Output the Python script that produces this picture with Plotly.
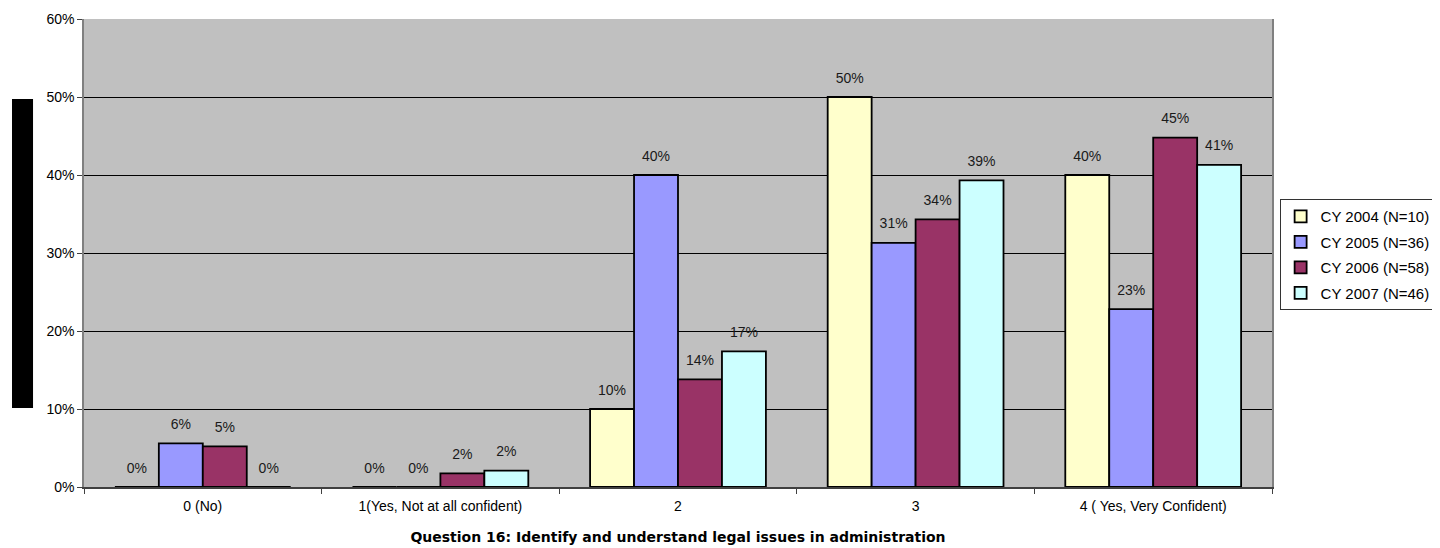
import plotly.graph_objects as go

categories = ["0 (No)", "1(Yes, Not at all confident)", "2", "3", "4 ( Yes, Very Confident)"]
series_names = ["CY 2004 (N=10)", "CY 2005 (N=36)", "CY 2006 (N=58)", "CY 2007 (N=46)"]
cy2004 = [0.0, 0.0, 0.10, 0.50, 0.40]
cy2005 = [0.056, 0.0, 0.40, 0.313, 0.228]
cy2006 = [0.052, 0.0175, 0.138, 0.343, 0.448]
cy2007 = [0.0, 0.021, 0.174, 0.393, 0.413]
colors = ["#FFFFCC", "#9999FF", "#993366", "#CCFFFF"]
x_title = "Question 16: Identify and understand legal issues in administration"

FONT = "Liberation Sans, Arial, sans-serif"
all_series = [cy2004, cy2005, cy2006, cy2007]

fig = go.Figure()
for i, (name, vals, col) in enumerate(zip(series_names, all_series, colors)):
    fig.add_trace(go.Bar(
        x=categories, y=vals, name=name, legendgroup=name,
        offsetgroup=str(i),
        marker=dict(color=col, line=dict(color="black", width=1.8)),
        hoverinfo="x+y+name",
    ))
# value labels, grouped like the bars
for i, (name, vals) in enumerate(zip(series_names, all_series)):
    fig.add_trace(go.Scatter(
        x=categories, y=vals, name=name, legendgroup=name, showlegend=False,
        offsetgroup=str(i),
        mode="markers+text",
        marker=dict(size=16, opacity=0),
        texttemplate="%{y:.0%}", textposition="top center",
        textfont=dict(family=FONT, size=14, color="#1a1a1a"),
        cliponaxis=False, hoverinfo="skip",
    ))

fig.update_layout(
    width=1432, height=540,
    margin=dict(l=76, r=168, t=11, b=61, autoexpand=False),
    paper_bgcolor="white", plot_bgcolor="#C0C0C0",
    barmode="group", bargap=0.26, bargroupgap=0,
    scattermode="group", scattergap=0.26,
    font=dict(family=FONT, size=14, color="black"),
    showlegend=True,
    legend=dict(
        xref="container", yref="container",
        x=0.888, xanchor="left", y=0.646, yanchor="top",
        bgcolor="white", bordercolor="#333333", borderwidth=1,
        font=dict(family=FONT, size=15, color="black"),
        traceorder="grouped", tracegroupgap=3,
        itemwidth=30,
    ),
    xaxis=dict(
        type="category", showgrid=False, automargin=False,
        showline=True, linecolor="#404040", linewidth=1.5,
        ticks="outside", tickson="boundaries", ticklen=5, tickcolor="#404040",
        ticklabelstandoff=5,
        tickfont=dict(family=FONT, size=14),
        title=dict(text="<b>" + x_title + "</b>", standoff=20,
                   font=dict(family="DejaVu Sans, Arial", size=14)),
    ),
    yaxis=dict(
        range=[0, 0.6], dtick=0.1, tickformat=".0%", automargin=False,
        showgrid=True, gridcolor="black", gridwidth=1,
        zeroline=False,
        showline=True, linecolor="#808080", linewidth=1.5, mirror=True,
        ticks="outside", ticklen=5, tickcolor="#404040",
        tickfont=dict(family=FONT, size=14),
    ),
    shapes=[dict(type="rect", xref="paper", yref="paper",
                 x0=-0.0606, x1=-0.0429, y0=0.1688, y1=0.829,
                 fillcolor="black", line=dict(width=0))],
)

fig.write_html("out.html")
